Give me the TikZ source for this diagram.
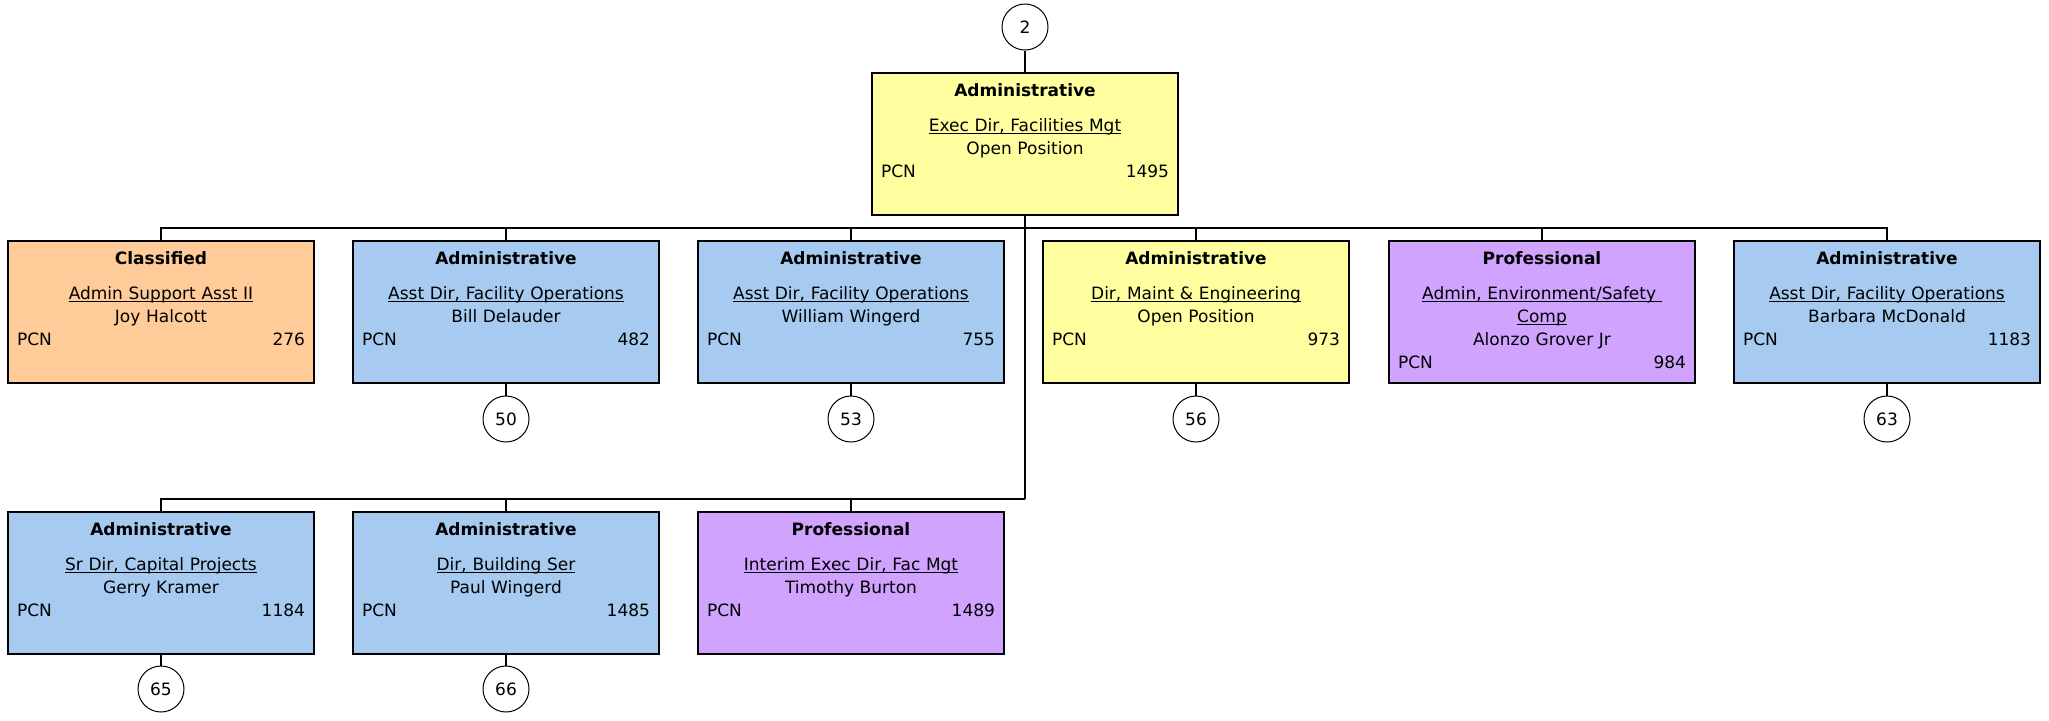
\documentclass[tikz,border=0pt]{standalone}
\usepackage{fontspec}
\setmainfont{DejaVu Sans}
\usetikzlibrary{positioning}

\definecolor{classblue}{RGB}{166,202,240}
\definecolor{classyellow}{RGB}{255,255,160}
\definecolor{classorange}{RGB}{255,204,153}
\definecolor{classpurple}{RGB}{208,163,255}

% underlined job title, line kept close to the baseline
\newcommand\jobtitle[1]{\leavevmode\sbox0{#1}\rlap{\rule[-2.5pt]{\wd0}{1.2pt}}\usebox0}

\begin{document}
\begin{tikzpicture}[
	x=1pt, y=-1pt,
	post/.style={
		rectangle,
		draw=black,
		line width=2pt,
		minimum width=306pt,
		minimum height=142pt,
		inner sep=0pt
	},
	administrative/.style={post, fill=classblue},
	openpost/.style={post, fill=classyellow},
	classified/.style={post, fill=classorange},
	professional/.style={post, fill=classpurple},
	info/.style={
		anchor=north,
		inner sep=0pt,
		text width=288pt,
		align=center,
		font=\fontsize{17}{23}\selectfont
	},
	badge/.style={circle, draw=black, line width=1pt, fill=white, minimum size=46pt, inner sep=0pt, font=\fontsize{17}{20}\selectfont},
	wire/.style={line width=2pt, draw=black}
]
\useasboundingbox (0,0) rectangle (2049,720);

\coordinate (bus1) at (0,228);
\coordinate (bus2) at (0,499);

\node[badge] (n2) at (1025,27) {2};
\node[openpost] (exec) at (1025,144) {};
\node[info, below=11.5pt of exec.north] (exec-i) {\textbf{Administrative}\\[12.3pt]\jobtitle{Exec Dir, Facilities Mgt}\\Open Position\\PCN\hfill 1495};

% First row
\node[classified] (support) at (161,312) {};
\node[info, below=11.5pt of support.north] (support-i) {\textbf{Classified}\\[12.3pt]\jobtitle{Admin Support Asst II}\\Joy Halcott\\PCN\hfill 276};

\node[administrative] (ops1) at (506,312) {};
\node[info, below=11.5pt of ops1.north] (ops1-i) {\textbf{Administrative}\\[12.3pt]\jobtitle{Asst Dir, Facility Operations}\\Bill Delauder\\PCN\hfill 482};

\node[administrative] (ops2) at (851,312) {};
\node[info, below=11.5pt of ops2.north] (ops2-i) {\textbf{Administrative}\\[12.3pt]\jobtitle{Asst Dir, Facility Operations}\\William Wingerd\\PCN\hfill 755};

\node[openpost] (maint) at (1196,312) {};
\node[info, below=11.5pt of maint.north] (maint-i) {\textbf{Administrative}\\[12.3pt]\jobtitle{Dir, Maint \& Engineering}\\Open Position\\PCN\hfill 973};

\node[professional] (safety) at (1542,312) {};
\node[info, below=11.5pt of safety.north] (safety-i) {\textbf{Professional}\\[12.3pt]\jobtitle{Admin, Environment/Safety\ }\\\jobtitle{Comp}\\Alonzo Grover Jr\\PCN\hfill 984};

\node[administrative] (ops3) at (1887,312) {};
\node[info, below=11.5pt of ops3.north] (ops3-i) {\textbf{Administrative}\\[12.3pt]\jobtitle{Asst Dir, Facility Operations}\\Barbara McDonald\\PCN\hfill 1183};

% Second row
\node[administrative] (capital) at (161,582.5) {};
\node[info, below=11.5pt of capital.north] (capital-i) {\textbf{Administrative}\\[12.3pt]\jobtitle{Sr Dir, Capital Projects}\\Gerry Kramer\\PCN\hfill 1184};

\node[administrative] (building) at (506,582.5) {};
\node[info, below=11.5pt of building.north] (building-i) {\textbf{Administrative}\\[12.3pt]\jobtitle{Dir, Building Ser}\\Paul Wingerd\\PCN\hfill 1485};

\node[professional] (interim) at (851,582.5) {};
\node[info, below=11.5pt of interim.north] (interim-i) {\textbf{Professional}\\[12.3pt]\jobtitle{Interim Exec Dir, Fac Mgt}\\Timothy Burton\\PCN\hfill 1489};

% Off-page references
\node[badge] (n50) at (506,419) {50};
\node[badge] (n53) at (851,419) {53};
\node[badge] (n56) at (1196,419) {56};
\node[badge] (n63) at (1887,419) {63};
\node[badge] (n65) at (161,689) {65};
\node[badge] (n66) at (506,689) {66};

% Connectors
\draw[wire] (n2) -- (exec);
\draw[wire] (exec.south) -- (exec.south |- bus2);
\draw[wire] (exec.south |- bus1) -| (support.north);
\draw[wire] (exec.south |- bus1) -| (ops1.north);
\draw[wire] (exec.south |- bus1) -| (ops2.north);
\draw[wire] (exec.south |- bus1) -| (maint.north);
\draw[wire] (exec.south |- bus1) -| (safety.north);
\draw[wire] (exec.south |- bus1) -| (ops3.north);
\draw[wire] (exec.south |- bus2) -| (capital.north);
\draw[wire] (exec.south |- bus2) -| (building.north);
\draw[wire] (exec.south |- bus2) -| (interim.north);

\draw[wire] (ops1) -- (n50);
\draw[wire] (ops2) -- (n53);
\draw[wire] (maint) -- (n56);
\draw[wire] (ops3) -- (n63);
\draw[wire] (capital) -- (n65);
\draw[wire] (building) -- (n66);
\end{tikzpicture}
\end{document}
